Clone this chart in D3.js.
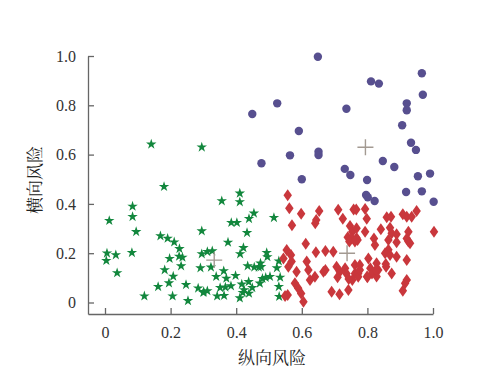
<!DOCTYPE html>
<html><head><meta charset="utf-8">
<script src="https://cdn.jsdelivr.net/npm/d3@7"></script>
<style>html,body{margin:0;padding:0;background:#fff;}</style>
</head><body>
<svg id="c" width="485" height="380"></svg>
<script>
// Cluster 1 (green stars): [纵向风险, 横向风险]
const greenPts = [
[0.141,0.642],[0.295,0.630],[0.180,0.470],[0.084,0.390],[0.013,0.332],[0.084,0.348],[0.095,0.287],
[0.169,0.270],[0.191,0.260],[0.211,0.245],[0.295,0.290],[0.227,0.218],[0.006,0.200],[0.033,0.193],
[0.082,0.202],[0.004,0.170],[0.197,0.178],[0.226,0.187],[0.236,0.183],[0.295,0.197],[0.232,0.148],
[0.182,0.132],[0.037,0.120],[0.291,0.140],[0.208,0.106],[0.195,0.079],[0.162,0.064],[0.247,0.072],
[0.284,0.058],[0.120,0.026],[0.206,0.026],[0.253,0.007],[0.300,0.040],[0.411,0.443],[0.356,0.412],
[0.411,0.408],[0.454,0.362],[0.439,0.340],[0.385,0.324],[0.402,0.324],[0.515,0.344],[0.433,0.283],
[0.375,0.244],[0.422,0.222],[0.312,0.206],[0.327,0.209],[0.412,0.197],[0.493,0.202],[0.495,0.185],
[0.474,0.159],[0.469,0.143],[0.455,0.143],[0.435,0.148],[0.530,0.168],[0.524,0.140],[0.323,0.143],
[0.362,0.128],[0.339,0.105],[0.370,0.098],[0.398,0.109],[0.480,0.097],[0.490,0.101],[0.503,0.105],
[0.534,0.102],[0.472,0.078],[0.417,0.074],[0.438,0.084],[0.351,0.060],[0.367,0.062],[0.384,0.067],
[0.424,0.051],[0.449,0.060],[0.530,0.064],[0.301,0.044],[0.312,0.047],[0.342,0.026],[0.363,0.028],
[0.411,0.018],[0.420,0.040],[0.439,0.037],[0.531,0.024],[0.476,0.145]
];
// Cluster 2 (red diamonds)
const redPts = [
[0.557,0.435],[0.562,0.382],[0.598,0.360],[0.570,0.313],[0.653,0.371],[0.644,0.335],[0.641,0.322],
[0.711,0.376],[0.725,0.340],[0.758,0.377],[0.766,0.377],[0.793,0.379],[0.798,0.340],[0.747,0.310],
[0.754,0.287],[0.740,0.265],[0.752,0.260],[0.767,0.262],[0.767,0.301],[0.793,0.287],[0.820,0.260],
[0.770,0.254],[0.841,0.297],[0.869,0.303],[0.859,0.346],[0.872,0.348],[0.874,0.281],[0.889,0.277],
[0.864,0.254],[0.889,0.244],[0.908,0.358],[0.920,0.348],[0.935,0.348],[0.950,0.371],[0.925,0.287],
[0.920,0.260],[0.925,0.247],[1.003,0.287],[0.930,0.240],[0.612,0.238],[0.823,0.233],[0.864,0.214],
[0.745,0.247],[0.762,0.247],[0.554,0.213],[0.567,0.193],[0.544,0.179],[0.569,0.166],[0.559,0.145],
[0.584,0.125],[0.615,0.166],[0.643,0.204],[0.672,0.209],[0.696,0.206],[0.620,0.132],[0.666,0.125],
[0.672,0.132],[0.706,0.145],[0.716,0.125],[0.732,0.139],[0.736,0.118],[0.762,0.152],[0.762,0.118],
[0.777,0.152],[0.772,0.118],[0.803,0.179],[0.828,0.159],[0.809,0.139],[0.814,0.118],[0.833,0.132],
[0.828,0.105],[0.799,0.105],[0.856,0.156],[0.874,0.118],[0.854,0.200],[0.869,0.193],[0.889,0.186],
[0.920,0.172],[0.920,0.091],[0.915,0.078],[0.908,0.048],[0.625,0.091],[0.640,0.104],[0.579,0.078],
[0.589,0.058],[0.598,0.037],[0.605,0.003],[0.557,0.030],[0.549,0.026],[0.691,0.044],[0.715,0.033],
[0.742,0.051],[0.754,0.091],[0.772,0.104],[0.709,0.102],[0.743,0.095],[0.777,0.132],[0.800,0.102],
[0.826,0.132],[0.857,0.145]
];
// Cluster 3 (purple circles)
const purplePts = [
[0.449,0.765],[0.477,0.565],[0.525,0.808],[0.649,0.997],[0.966,0.930],[0.811,0.897],[0.835,0.888],
[0.969,0.843],[0.736,0.786],[0.920,0.808],[0.920,0.780],[0.906,0.719],[0.591,0.696],[0.933,0.648],
[0.948,0.619],[0.564,0.597],[0.651,0.612],[0.651,0.598],[0.847,0.574],[0.882,0.550],[0.731,0.542],
[0.748,0.517],[0.991,0.523],[0.954,0.512],[0.600,0.500],[0.799,0.497],[0.918,0.448],[0.966,0.451],
[0.796,0.436],[0.801,0.427],[0.822,0.412],[1.002,0.409]
];
// Cluster centres
const centers = [[0.333,0.172],[0.738,0.200],[0.794,0.630]];
const xTicks = [0,0.2,0.4,0.6,0.8,1.0];
const yTicks = [0,0.2,0.4,0.6,0.8,1.0];
const xTickLabels = ["0","0.2","0.4","0.6","0.8","1.0"];
const yTickLabels = ["0","0.2","0.4","0.6","0.8","1.0"];
const xTitle = "纵向风险";
const yTitle = "横向风险";

const svg = d3.select("#c");
const x = d3.scaleLinear().domain([-17/328, 1]).range([88, 433]);
const y = d3.scaleLinear().domain([-11.5/246.5, 1]).range([314, 56]);
const serif = "'Liberation Serif','Times New Roman',serif";
const cjk = "'Noto Serif CJK SC','Noto Sans CJK SC',serif";

const axisColor = "#666";
const gx = svg.append("g").attr("transform","translate(0,314)")
  .call(d3.axisBottom(x).tickValues(xTicks).tickSize(-6).tickSizeOuter(0).tickPadding(13)
    .tickFormat((d,i)=>xTickLabels[i]));
const gy = svg.append("g").attr("transform","translate(88,0)")
  .call(d3.axisLeft(y).tickValues(yTicks).tickSize(-6).tickSizeOuter(0).tickPadding(12)
    .tickFormat((d,i)=>yTickLabels[i]));
[gx,gy].forEach(g=>{
  g.select(".domain").attr("stroke",axisColor).attr("stroke-width",1.3);
  g.selectAll(".tick line").attr("stroke",axisColor).attr("stroke-width",1.3);
  g.selectAll(".tick text").attr("fill","#333").style("font-family",serif).style("font-size","16px");
});

// green stars
const star = d3.symbol().type(d3.symbolStar).size(34);
svg.append("g").selectAll("path").data(greenPts).join("path")
  .attr("d", star)
  .attr("transform", d=>`translate(${x(d[0])},${y(d[1])})`)
  .attr("fill","#12873d");

// red diamonds
const diamond = (w,h)=>`M0,${-h/2}L${w/2},0L0,${h/2}L${-w/2},0Z`;
svg.append("g").selectAll("path").data(redPts).join("path")
  .attr("d", diamond(8.5,12))
  .attr("transform", d=>`translate(${x(d[0])},${y(d[1])})`)
  .attr("fill","#c9373c");

// purple circles
svg.append("g").selectAll("circle").data(purplePts).join("circle")
  .attr("cx", d=>x(d[0])).attr("cy", d=>y(d[1])).attr("r",4.2)
  .attr("fill","#574f8f");

// centroid crosses
svg.append("g").selectAll("path").data(centers).join("path")
  .attr("d","M-8,0H8M0,-8V8")
  .attr("transform", d=>`translate(${x(d[0])},${y(d[1])})`)
  .attr("stroke","#a39a92").attr("stroke-width",1.4).attr("fill","none");

// titles
svg.append("text").attr("x",272).attr("y",364).attr("text-anchor","middle")
  .style("font-family",cjk).style("font-size","17px").attr("fill","#222").text(xTitle);
svg.append("text").attr("transform","translate(41,180) rotate(-90)").attr("text-anchor","middle")
  .style("font-family",cjk).style("font-size","17px").attr("fill","#222").text(yTitle);
</script>
</body></html>
